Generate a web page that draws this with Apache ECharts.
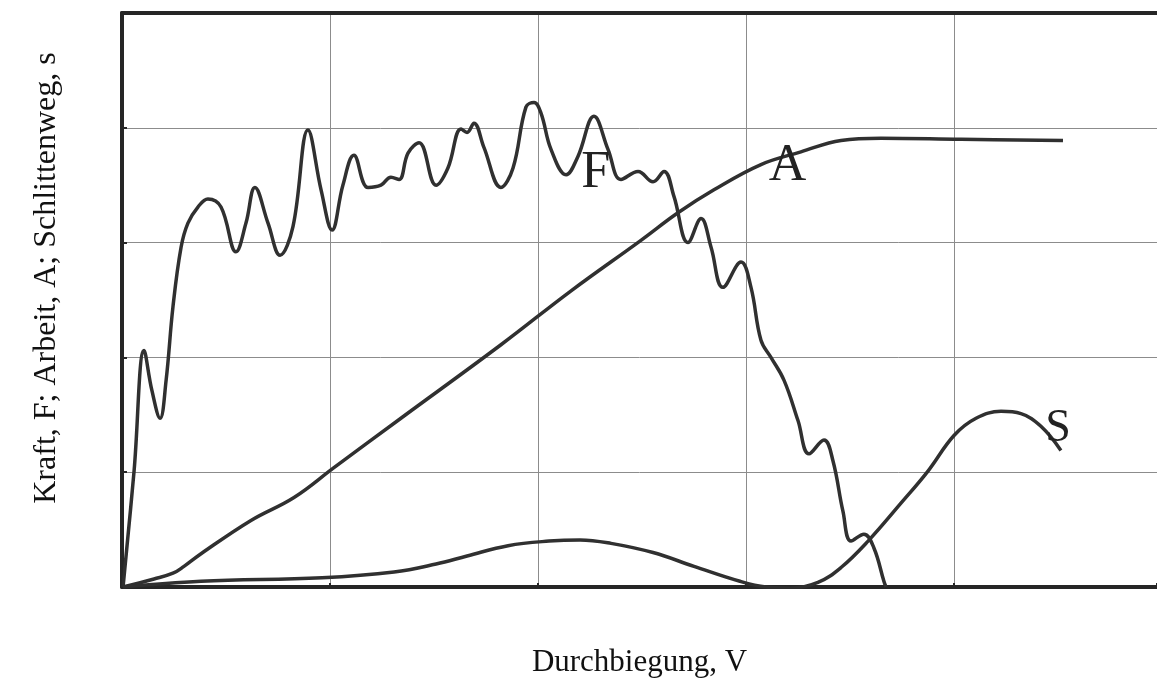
<!DOCTYPE html>
<html>
<head>
<meta charset="utf-8">
<script src="https://cdn.jsdelivr.net/npm/echarts@6/dist/echarts.min.js"></script>
<style>
  html, body { margin: 0; padding: 0; background: #ffffff; }
  #chart { width: 1157px; height: 690px; }
</style>
</head>
<body>
<div id="chart"></div>
<script>
// Kraft F over Durchbiegung V  [V, F]
const kraftF = [
  [0.005, 0], [0.058, 1.01], [0.106, 2.06], [0.144, 1.71], [0.183, 1.47],
  [0.212, 1.80], [0.245, 2.44], [0.284, 2.96], [0.317, 3.17], [0.365, 3.31],
  [0.413, 3.38], [0.476, 3.31], [0.548, 2.92], [0.596, 3.17], [0.639, 3.48],
  [0.702, 3.17], [0.760, 2.89], [0.822, 3.14], [0.894, 3.98], [0.957, 3.46],
  [1.010, 3.11], [1.062, 3.50], [1.115, 3.76], [1.183, 3.48], [1.245, 3.50],
  [1.293, 3.57], [1.332, 3.55], [1.375, 3.78], [1.428, 3.87], [1.510, 3.50],
  [1.567, 3.65], [1.630, 3.99], [1.659, 3.96], [1.692, 4.04], [1.740, 3.83],
  [1.822, 3.48], [1.880, 3.65], [1.942, 4.18], [1.981, 4.22], [2.014, 4.13],
  [2.063, 3.81], [2.135, 3.59], [2.192, 3.75], [2.269, 4.10], [2.337, 3.81],
  [2.399, 3.55], [2.481, 3.62], [2.553, 3.53], [2.606, 3.62], [2.654, 3.40],
  [2.721, 3.00], [2.784, 3.21], [2.832, 2.96], [2.889, 2.61], [2.976, 2.83],
  [3.024, 2.61], [3.072, 2.15], [3.120, 2.00], [3.183, 1.80], [3.250, 1.45],
  [3.303, 1.16], [3.375, 1.28], [3.418, 1.10], [3.466, 0.66], [3.505, 0.40],
  [3.567, 0.46], [3.615, 0.34], [3.663, 0.05], [3.673, 0]
];

// Arbeit A over Durchbiegung V  [V, A]
const arbeitA = [
  [0.005, 0], [0.154, 0.07], [0.245, 0.12], [0.298, 0.18], [0.380, 0.29],
  [0.620, 0.58], [0.827, 0.78], [1.019, 1.04], [1.341, 1.47], [1.822, 2.11],
  [2.159, 2.58], [2.495, 3.02], [2.673, 3.26], [2.846, 3.46], [3.072, 3.68],
  [3.264, 3.79], [3.457, 3.89], [3.649, 3.91], [4.034, 3.90], [4.524, 3.89]
];

// Schlittenweg s over Durchbiegung V  [V, s]
const schlittenwegS = [
  [0.005, 0], [0.380, 0.05], [0.962, 0.08], [1.308, 0.13], [1.510, 0.20],
  [1.659, 0.27], [1.856, 0.36], [2.053, 0.40], [2.202, 0.41], [2.351, 0.38],
  [2.553, 0.30], [2.750, 0.18], [2.971, 0.05], [3.096, 0], [3.216, -0.01],
  [3.346, 0.04], [3.457, 0.17], [3.587, 0.40], [3.745, 0.73], [3.875, 1.01],
  [4.000, 1.32], [4.106, 1.47], [4.226, 1.53], [4.322, 1.51], [4.418, 1.40],
  [4.514, 1.19]
];

// curve labels placed in data coordinates  [V, y, text, font size]
const curveLabels = [
  [2.277, 3.60, 'F', 52],
  [3.200, 3.66, 'A', 52],
  [4.500, 1.38, 'S', 46]
];

const xTitle = 'Durchbiegung, V';
const yTitle = 'Kraft, F; Arbeit, A; Schlittenweg, s';

// visible span of the deflection axis (the frame is cut at the right edge)
const xMin = 0;
const xMax = 4.976;

const serif = '"Liberation Serif", "DejaVu Serif", serif';
const inkColor = '#303030';
const frameColor = '#262626';
const gridColor = '#8c8c8c';

const chart = echarts.init(document.getElementById('chart'), null, { renderer: 'canvas' });

function curve(name, data, labelIdx) {
  const lab = curveLabels[labelIdx];
  return {
    name: name,
    type: 'line',
    xAxisIndex: 0,
    yAxisIndex: 0,
    data: data,
    smooth: 0.4,
    showSymbol: false,
    symbol: 'none',
    lineStyle: { color: inkColor, width: 3.5 },
    animation: false,
    markPoint: {
      symbol: 'circle',
      symbolSize: 0,
      silent: true,
      data: [{
        coord: [lab[0], lab[1]],
        label: {
          show: true,
          formatter: lab[2],
          position: 'inside',
          fontFamily: serif,
          fontSize: lab[3],
          color: '#222'
        }
      }]
    }
  };
}

chart.setOption({
  backgroundColor: '#ffffff',
  animation: false,
  grid: { left: 122, top: 13, right: 0, bottom: 103 },
  xAxis: [{
    type: 'value',
    position: 'bottom',
    min: xMin, max: xMax, interval: 1,
    name: xTitle,
    nameLocation: 'middle',
    nameGap: 60,
    nameTextStyle: { fontFamily: serif, fontSize: 31, color: '#111' },
    axisLine: { show: true, onZero: false, lineStyle: { color: frameColor, width: 4 } },
    axisTick: { show: true, inside: true, length: 4, lineStyle: { color: frameColor, width: 2 } },
    axisLabel: { show: false },
    splitLine: { show: true, lineStyle: { color: gridColor, width: 1 } }
  }, {
    type: 'value',
    position: 'top',
    min: xMin, max: xMax, interval: 1,
    axisLine: { show: true, onZero: false, lineStyle: { color: frameColor, width: 4 } },
    axisTick: { show: false },
    axisLabel: { show: false },
    splitLine: { show: false }
  }],
  yAxis: {
    type: 'value',
    min: 0, max: 5, interval: 1,
    axisLine: { show: true, onZero: false, lineStyle: { color: frameColor, width: 4 } },
    axisTick: { show: true, inside: true, length: 5, lineStyle: { color: frameColor, width: 2 } },
    axisLabel: { show: false },
    splitLine: { show: true, lineStyle: { color: gridColor, width: 1 } }
  },
  graphic: [{
    type: 'text',
    x: 47, y: 278,
    rotation: Math.PI / 2,
    style: {
      text: yTitle,
      font: '32px ' + serif,
      fill: '#111',
      align: 'center',
      verticalAlign: 'middle'
    }
  }],
  series: [
    curve('F', kraftF, 0),
    curve('A', arbeitA, 1),
    curve('S', schlittenwegS, 2)
  ]
});
</script>
</body>
</html>
